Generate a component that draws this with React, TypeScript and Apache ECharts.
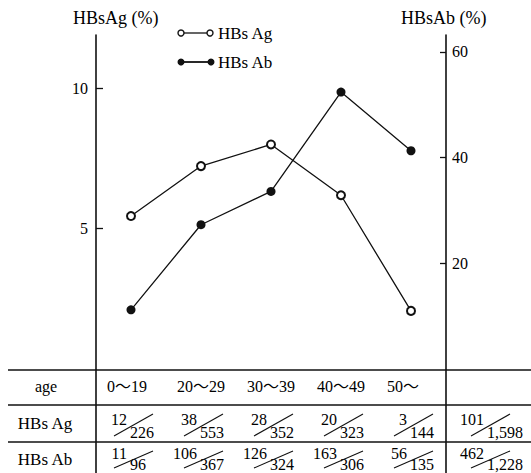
import React, { useEffect, useRef } from "react";
import * as echarts from "echarts";

const categories = ["0～19", "20～29", "30～39", "40～49", "50～"];
const agValues = [5.45, 7.23, 8.0, 6.19, 2.07];
const abValues = [11.2, 27.3, 33.6, 52.4, 41.3];
const leftTicks = [5, 10];
const rightTicks = [20, 40, 60];
const agNum = ["12", "38", "28", "20", "3"];
const agDen = ["226", "553", "352", "323", "144"];
const abNum = ["11", "106", "126", "163", "56"];
const abDen = ["96", "367", "324", "306", "135"];
const agTotal = ["101", "1,598"];
const abTotal = ["462", "1,228"];
const rowLabels = ["age", "HBs Ag", "HBs Ab"];
const seriesNames = ["HBs Ag", "HBs Ab"];
const axisTitles = ["HBsAg (%)", "HBsAb (%)"];

const FONT = "'Liberation Serif', 'DejaVu Serif', 'Noto Sans CJK SC', serif";
const INK = "#111";

export default function App() {
  const ref = useRef<HTMLDivElement>(null);
  useEffect(() => {
    if (!ref.current) return;
    const chart = echarts.init(ref.current, undefined, { renderer: "svg" });
    const axisCommon = {
      type: "value" as const,
      min: 0,
      splitLine: { show: false },
      axisLine: { show: true, lineStyle: { color: INK, width: 1.6 } },
    };
    chart.setOption({
      animation: false,
      backgroundColor: "#fff",
      grid: { left: 96, right: 85, top: 35, bottom: 104 },
      xAxis: {
        type: "category",
        data: categories,
        boundaryGap: true,
        axisLine: { show: false },
        axisTick: { show: false },
        axisLabel: { show: false },
        splitLine: { show: false },
      },
      yAxis: [
        {
          ...axisCommon,
          position: "left",
          max: 11.9,
          interval: 5,
          axisTick: { show: true, inside: true, length: 7, customValues: leftTicks, lineStyle: { color: INK, width: 1.3 } },
          axisLabel: { customValues: leftTicks, color: "#000", fontSize: 16, fontFamily: FONT, margin: 8 },
        },
        {
          ...axisCommon,
          position: "right",
          max: 63.2,
          interval: 20,
          axisTick: { show: true, inside: true, length: 6, customValues: rightTicks, lineStyle: { color: INK, width: 1.3 } },
          axisLabel: { customValues: rightTicks, color: "#000", fontSize: 16, fontFamily: FONT, margin: 6 },
        },
      ],
      series: [
        {
          type: "line",
          name: seriesNames[0],
          yAxisIndex: 0,
          data: agValues,
          symbol: "emptyCircle",
          symbolSize: 8,
          lineStyle: { color: INK, width: 1.3 },
          itemStyle: { color: INK, borderWidth: 1.4 },
          z: 3,
        },
        {
          type: "line",
          name: seriesNames[1],
          yAxisIndex: 1,
          data: abValues,
          symbol: "circle",
          symbolSize: 9,
          lineStyle: { color: INK, width: 1.3 },
          itemStyle: { color: INK },
          z: 2,
        },
      ],
    });

    const centers = categories.map((_, i) => chart.convertToPixel({ xAxisIndex: 0 }, i) as number);
    const leftX = 96;
    const rightX = 446;
    const totalC = 488;
    const g: any[] = [];
    const line = (x1: number, y1: number, x2: number, y2: number, w = 1.5) =>
      g.push({ type: "line", shape: { x1, y1, x2, y2 }, style: { stroke: INK, lineWidth: w }, silent: true });
    const text = (t: string, x: number, y: number, align = "left", size = 15) =>
      g.push({
        type: "text",
        x,
        y,
        style: { text: t, fill: "#000", fontSize: size, fontFamily: FONT, align, verticalAlign: "middle" },
        silent: true,
      });

    // titles
    text(axisTitles[0], 73, 18, "left", 18);
    text(axisTitles[1], 401, 18, "left", 18);

    // legend
    line(181, 33, 210, 33, 1.3);
    g.push({ type: "circle", shape: { cx: 181, cy: 33, r: 3 }, style: { fill: "#fff", stroke: INK, lineWidth: 1.4 } });
    g.push({ type: "circle", shape: { cx: 210, cy: 33, r: 3 }, style: { fill: "#fff", stroke: INK, lineWidth: 1.4 } });
    text(seriesNames[0], 218, 33, "left", 17);
    line(181, 62, 211, 62, 1.8);
    g.push({ type: "circle", shape: { cx: 181, cy: 62, r: 3.5 }, style: { fill: INK } });
    g.push({ type: "circle", shape: { cx: 211, cy: 62, r: 3.5 }, style: { fill: INK } });
    text(seriesNames[1], 218, 62, "left", 17);

    // table lines
    line(8, 370, 531, 370, 1.5);
    line(8, 405, 531, 405, 1.5);
    line(8, 442, 531, 442, 1.5);
    line(leftX, 369, leftX, 473, 1.6);
    line(rightX, 369, rightX, 473, 1.6);

    // row labels
    text(rowLabels[0], 46, 386, "center", 16);
    text(rowLabels[1], 45, 423, "center", 17);
    text(rowLabels[2], 45, 459, "center", 17);

    // header
    centers.forEach((c, i) => text(categories[i], c - 24, 386, "left", 16));

    const frac = (num: string, den: string, s: number, top: number, numDy: number, denDy: number) => {
      text(num, s, top + numDy, "right", 16);
      text(den, s + 3, top + denDy, "left", 16);
      line(s - 13, top + denDy + 4, s + 26, top + 9, 1.1);
    };
    centers.forEach((c, i) => {
      const s = c - 4;
      frac(agNum[i], agDen[i], s, 405, 14, 27);
      frac(abNum[i], abDen[i], s, 442, 11, 22);
    });
    frac(agTotal[0], agTotal[1], totalC - 4, 405, 14, 27);
    frac(abTotal[0], abTotal[1], totalC - 4, 442, 11, 22);

    chart.setOption({ graphic: g });
    return () => chart.dispose();
  }, []);
  return (
    <div
      ref={ref}
      style={{ position: "fixed", left: 0, top: 0, width: 531, height: 473, background: "#fff" }}
    />
  );
}
